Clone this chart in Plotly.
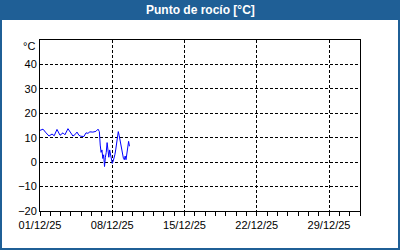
import plotly.graph_objects as go
import pandas as pd

# hours since 2025-12-01 00:00
hours = [0, 7, 14, 21, 28, 33, 39.5, 46.5, 53.5, 58, 65, 70, 76.5, 81, 86, 90.5,
         95, 102, 107, 111.5, 116, 123, 130, 135,
         138, 140, 142, 144, 146, 148, 150, 152, 154, 156, 158, 160, 162, 164, 166,
         168, 170, 172, 174, 176, 178, 180, 182, 184, 186, 188, 190,
         192, 194, 196, 198, 200, 202, 204, 206, 208]
dew_point = [13.0, 13.5, 12.0, 10.7, 11.5, 10.8, 13.4, 11.0, 12.0, 11.2, 13.7, 12.5,
             10.7, 11.2, 12.3, 11.0, 10.6, 10.5, 12.0, 11.8, 12.4, 12.3, 12.6, 13.5,
             12.5, 7.0, 4.0, 5.0, 1.5, 3.0, -1.8, 2.0, 4.0, 8.0, 5.0, 2.0, 5.0, 3.0, 0.5,
             -0.5, 0.3, 1.5, 3.0, 5.0, 8.0, 10.5, 12.5, 11.0, 9.0, 6.0, 5.0,
             3.0, 1.5, 1.0, 2.5, 1.0, 3.5, 5.5, 8.5, 6.5]

x_ticks = ["2025-12-01", "2025-12-08", "2025-12-15", "2025-12-22", "2025-12-29"]
x_labels = ["01/12/25", "08/12/25", "15/12/25", "22/12/25", "29/12/25"]
y_ticks = [-20, -10, 0, 10, 20, 30, 40]
title = "Punto de rocío [°C]"
unit = "°C"

start = pd.Timestamp("2025-12-01")
times = [start + pd.Timedelta(hours=h) for h in hours]

fig = go.Figure()
fig.add_trace(go.Scatter(x=times, y=dew_point, mode="lines",
                         line=dict(color="#0000FF", width=1), hoverinfo="skip"))

W, H = 400, 250
L, R, T, B = 40, 40, 40, 39
pw, ph = W - L - R, H - T - B

def px(xp):
    return (xp - L) / pw

def py(yp):
    return (H - B - yp) / ph

blue = "#1F5F96"
fig.update_layout(
    width=W, height=H,
    margin=dict(l=L, r=R, t=T, b=B),
    paper_bgcolor="white", plot_bgcolor="white",
    showlegend=False,
    font=dict(family="Liberation Sans", size=11, color="black"),
    xaxis=dict(type="date", range=["2025-12-01", "2026-01-01"],
               tickvals=x_ticks, ticktext=x_labels,
               showgrid=True, gridcolor="black", griddash="3px,2px", gridwidth=1,
               showline=True, linecolor="black", linewidth=1, mirror=True,
               ticks="outside", ticklen=4, tickcolor="black",
               minor=dict(dtick=86400000, tick0="2025-12-01", ticks="outside",
                          ticklen=4, tickcolor="black", showgrid=False),
               zeroline=False, fixedrange=True),
    yaxis=dict(range=[-20, 50], tickvals=y_ticks,
               showgrid=True, gridcolor="black", griddash="3px,2px", gridwidth=1,
               showline=True, linecolor="black", linewidth=1, mirror=True,
               ticks="", zeroline=False, fixedrange=True),
    shapes=[
        dict(type="rect", xref="paper", yref="paper",
             x0=px(0), x1=px(W), y0=py(20), y1=py(0),
             fillcolor=blue, line=dict(width=0), layer="above"),
        dict(type="rect", xref="paper", yref="paper",
             x0=px(1), x1=px(W - 1), y0=py(H - 1), y1=py(1),
             fillcolor="rgba(0,0,0,0)", line=dict(color=blue, width=2), layer="above"),
    ],
    annotations=[
        dict(text="<b>" + title + "</b>", xref="paper", yref="paper",
             x=px(W / 2), y=py(10), xanchor="center", yanchor="middle",
             showarrow=False, font=dict(family="Liberation Sans", size=12, color="white")),
        dict(text=unit, xref="paper", yref="paper",
             x=px(37), y=py(46), xanchor="right", yanchor="middle",
             showarrow=False, font=dict(family="Liberation Sans", size=11, color="black")),
    ],
)

fig.write_html("out.html", config={"displayModeBar": False})
